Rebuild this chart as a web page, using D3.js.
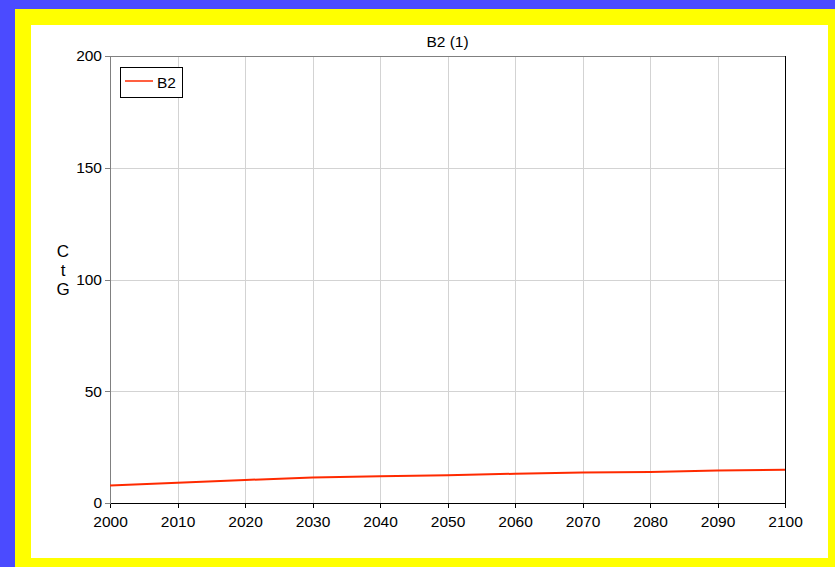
<!DOCTYPE html>
<meta charset="utf-8">
<style>
body { margin: 0; background: #4b4bff; font-family: "Liberation Sans", Arial, sans-serif; }
svg { display: block; }
.grid line { stroke: #d3d3d3; stroke-width: 1; shape-rendering: crispEdges; }
.axis text { font: 15.5px "Liberation Sans", Arial, sans-serif; fill: #000; }
</style>
<body>
<svg width="835" height="567"></svg>
<script src="https://d3js.org/d3.v7.min.js"></script>
<script>

// data
var years = [2000, 2010, 2020, 2030, 2040, 2050, 2060, 2070, 2080, 2090, 2100];
var b2 = [7.8, 9.1, 10.3, 11.4, 12.0, 12.4, 13.1, 13.6, 13.9, 14.5, 14.9];
var yTicks = [0, 50, 100, 150, 200];
var seriesName = "B2";
var chartTitle = "B2 (1)";
var yLabel = ["C", "t", "G"];

var svg = d3.select("svg");

// frame: blue page, yellow band, white panel
svg.append("rect").attr("x", 0).attr("y", 0).attr("width", 835).attr("height", 567).attr("fill", "#4b4bff");
svg.append("rect").attr("x", 15).attr("y", 9).attr("width", 830).attr("height", 570).attr("fill", "#ffff00");
svg.append("rect").attr("x", 31).attr("y", 25).attr("width", 797).attr("height", 533).attr("fill", "#ffffff");

var pLeft = 110, pRight = 785, pTop = 56, pBottom = 503;

var x = d3.scaleLinear().domain([2000, 2100]).range([pLeft, pRight]);
var y = d3.scaleLinear().domain([0, 200]).range([pBottom, pTop]);

// grid
var grid = svg.append("g").attr("class", "grid");
grid.selectAll(".vx").data(years.slice(1, -1)).enter().append("line")
    .attr("x1", function(d) { return Math.round(x(d)) + 0.5; })
    .attr("x2", function(d) { return Math.round(x(d)) + 0.5; })
    .attr("y1", pTop).attr("y2", pBottom);
grid.selectAll(".hy").data(yTicks.slice(1, -1)).enter().append("line")
    .attr("y1", function(d) { return Math.round(y(d)) + 0.5; })
    .attr("y2", function(d) { return Math.round(y(d)) + 0.5; })
    .attr("x1", pLeft).attr("x2", pRight);

// top and right border
svg.append("line").attr("x1", pLeft).attr("x2", pRight).attr("y1", pTop + 0.5).attr("y2", pTop + 0.5)
    .attr("stroke", "#808080").attr("shape-rendering", "crispEdges");
svg.append("line").attr("x1", pRight + 0.5).attr("x2", pRight + 0.5).attr("y1", pTop).attr("y2", pBottom)
    .attr("stroke", "#000").attr("shape-rendering", "crispEdges");

// axes
var xAxis = svg.append("g").attr("class", "axis")
    .attr("transform", "translate(0," + pBottom + ")")
    .call(d3.axisBottom(x).tickValues(years).tickFormat(d3.format("d")).tickSizeOuter(0).tickSize(5).tickPadding(8));
xAxis.selectAll("path, line").attr("stroke", "#000").attr("shape-rendering", "crispEdges");

var yAxis = svg.append("g").attr("class", "axis")
    .attr("transform", "translate(" + pLeft + ",0)")
    .call(d3.axisLeft(y).tickValues(yTicks).tickSizeOuter(0).tickSize(5).tickPadding(3));
yAxis.selectAll("path, line").attr("stroke", "#808080").attr("shape-rendering", "crispEdges");

// title
svg.append("text").attr("x", (pLeft + pRight) / 2).attr("y", 47)
    .attr("text-anchor", "middle").style("font-size", "15.5px").text(chartTitle);

// y label stacked letters
svg.append("g").selectAll("text").data(yLabel).enter().append("text")
    .attr("x", 63).attr("y", function(d, i) { return 257 + i * 19; })
    .attr("text-anchor", "middle").style("font-size", "17px")
    .text(function(d) { return d; });

// series line
var line = d3.line()
    .x(function(d, i) { return x(years[i]); })
    .y(function(d) { return y(d); });

svg.append("path").datum(b2)
    .attr("fill", "none")
    .attr("stroke", "#ff2a00")
    .attr("stroke-width", 2)
    .attr("d", line);

// legend
var lg = svg.append("g");
lg.append("rect").attr("x", 120.5).attr("y", 67.5).attr("width", 62).attr("height", 30)
    .attr("fill", "#fff").attr("stroke", "#000");
lg.append("line").attr("x1", 125).attr("x2", 153).attr("y1", 81).attr("y2", 81)
    .attr("stroke", "#ff2a00").attr("stroke-width", 1.5);
lg.append("text").attr("x", 157).attr("y", 88).style("font-size", "15.5px").text(seriesName);

</script>
